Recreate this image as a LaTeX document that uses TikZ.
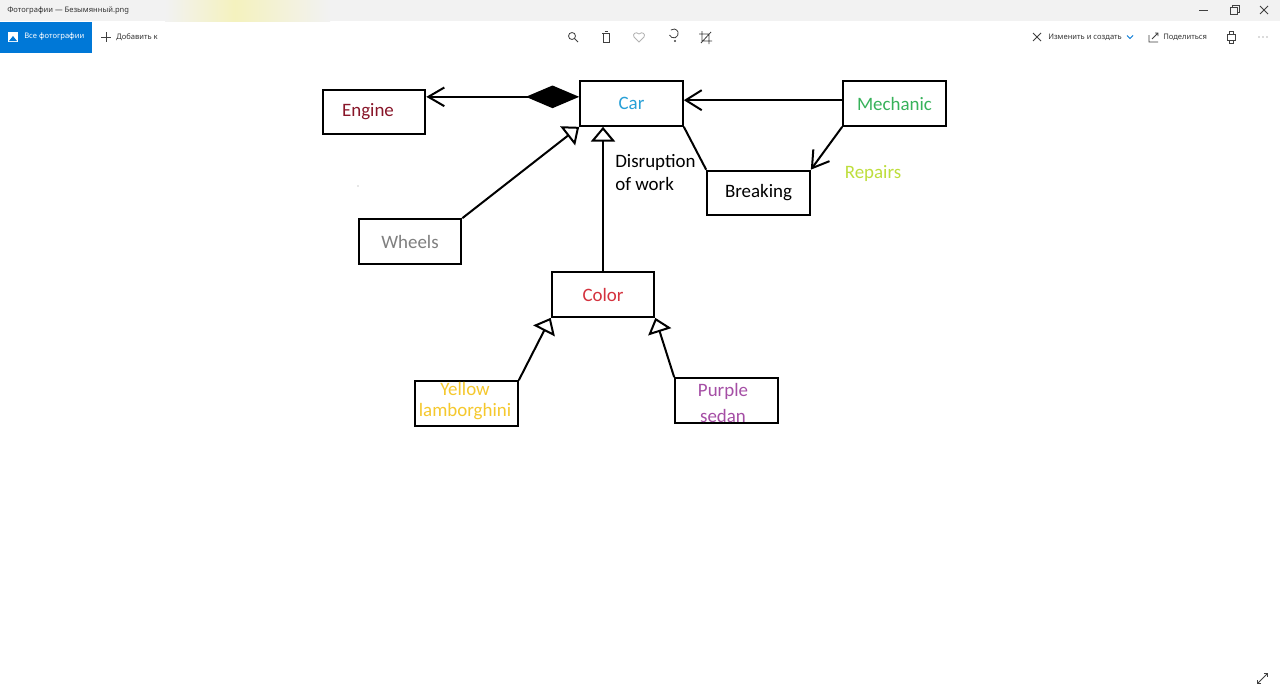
\documentclass[tikz,border=0pt]{standalone}
\usepackage{fontspec}
\setmainfont{Carlito}
\newfontfamily\uifont{Noto Sans}
\usetikzlibrary{arrows.meta,positioning,calc}

\definecolor{titlegray}{RGB}{242,242,242}
\definecolor{glow}{RGB}{244,242,190}
\definecolor{winblue}{RGB}{0,120,215}
\definecolor{enginered}{RGB}{136,21,40}
\definecolor{carblue}{RGB}{40,160,215}
\definecolor{mechgreen}{RGB}{55,178,90}
\definecolor{wheelgray}{RGB}{127,127,127}
\definecolor{colorred}{RGB}{212,50,62}
\definecolor{lamboyellow}{RGB}{245,200,45}
\definecolor{sedanpurple}{RGB}{165,78,165}
\definecolor{repairsgreen}{RGB}{190,222,60}

\tikzstyle{box} = [draw=black, line width=1.5pt, minimum width=77pt, minimum height=33.5pt, inner sep=0pt, font=\fontsize{14.2}{17}\selectfont]
\tikzstyle{txt} = [inner sep=0pt, align=center, font=\fontsize{14.2}{17}\selectfont]
\tikzstyle{assoc} = [line width=1.5pt, -{Straight Barb[length=12pt,width=15pt]}]
\tikzstyle{inherit} = [line width=1.5pt, -{Triangle[open,length=11pt,width=18pt,fill=white]}]
\tikzstyle{compose} = [line width=1.5pt, {Diamond[length=40pt,width=17pt,fill=black]}-{Straight Barb[length=12pt,width=14pt]}]
\tikzstyle{ui} = [font=\uifont\fontsize{5.7}{7}\selectfont, text=black!80, anchor=west, inner sep=0pt]
\tikzstyle{icon} = [draw=black!75, line width=0.6pt]

\begin{document}
\begin{tikzpicture}[x=0.75pt,y=-0.75pt]
    \useasboundingbox (0,0) rectangle (1280,693);
    \fill[white] (0,0) rectangle (1280,693);

    % title bar
    \fill[titlegray] (0,0) rectangle (1280,21);
    \shade[left color=titlegray,right color=glow] (165,0) rectangle (235,21);
    \shade[left color=glow,right color=titlegray] (235,0) rectangle (330,21);
    \node[ui] (title) at (7,11) {Фотографии — Безымянный.png};
    \draw[icon] (1199,10) -- (1208,10);
    \draw[icon] (1230,7) rectangle (1237,14);
    \draw[icon] (1232,7) -- (1232,5) -- (1239,5) -- (1239,12) -- (1237,12);
    \draw[icon] (1260,6) -- (1268,14) (1260,14) -- (1268,6);

    % toolbar
    \fill[winblue] (0,22) rectangle (92,53);
    \fill[white] (8,32) rectangle (18,42);
    \fill[winblue] (9,41) -- (13,36) -- (17,41) -- cycle;
    \node[ui,text=white] (allphotos) at (24,37) {Все фотографии};
    \draw[icon] (101,37) -- (111,37) (106,32) -- (106,42);
    \node[ui] (addto) at (116,37) {Добавить к};
      \draw[icon] (572,36) circle (3.5);
      \draw[icon] (574.5,38.5) -- (578,42);
      \draw[icon] (602,33) -- (610,33) (604.5,31) -- (607.5,31);
      \draw[icon] (603,33) rectangle (609,42);
      \draw[black!30, line width=0.6pt] (639,42) -- (634,37) .. controls (632,34) and (636,31) .. (639,34) .. controls (642,31) and (646,34) .. (644,37) -- cycle;
      \draw[icon] (669.5,35) arc[start angle=160, end angle=-130, radius=4.5];
      \fill[black!75] (675,41) circle (1.2);
      \draw[icon] (702,31) -- (702,41) -- (712,41) (699,34) -- (709,34) -- (709,44) (701,43) -- (711,32);
    \draw[icon] (1033,33) -- (1041,41) (1033,41) -- (1041,33);
    \node[ui] (edit) at (1048,37) {Изменить и создать};
    \draw[winblue, line width=0.6pt] (1127,35.5) -- (1130,38.5) -- (1133,35.5);
    \draw[icon] (1149,35) -- (1149,42) -- (1158,42) (1152,39) -- (1158,33) (1155,33) -- (1158,33) -- (1158,36);
    \node[ui] (share) at (1163,37) {Поделиться};
    \draw[icon] (1227,34) rectangle (1235,40) (1229,31) rectangle (1233,34) (1229,40) rectangle (1233,43);
    \foreach \x in {1259,1263,1267}
      \fill[black!60] (\x,37) circle (0.6);
    \draw[icon, {Straight Barb[length=2pt]}-{Straight Barb[length=2pt]}] (1257,684) -- (1268,673);

    % boxes
    \node[box, text=enginered] (engine) at (374,112) {Engine\hspace*{9pt}};
    \node[box, text=carblue] (car) at (631.5,103.5) {Car};
    \node[box, text=mechgreen] (mechanic) at (894.5,103.5) {Mechanic};
    \node[box] (breaking) at (758.5,193) {Breaking};
    \node[box, text=wheelgray] (wheels) at (410,241.5) {Wheels};
    \node[box, text=colorred] (color) at (603,294.5) {Color};
    \node[box] (yellow) at (466.5,403.5) {};
      \node[txt, text=lamboyellow, font=\fontsize{14.2}{15.75}\selectfont] (yellowtext) at (465,401) {Yellow\\lamborghini};
    \node[box] (purple) at (726.5,400.5) {};
      \node[txt, text=sedanpurple, font=\fontsize{14.2}{19.5}\selectfont] (purpletext) at (723,403) {Purple\\sedan};

    % connector labels
    \node[txt, text=repairsgreen] (repairs) at (873,174) {Repairs};
    \node[txt, align=left, anchor=west, font=\fontsize{14.2}{17.25}\selectfont] (disruption) at (615,173) {Disruption\\of work};
    \fill[black!40] (358,186) circle (0.6);

    % arrows
    \draw[compose] ([yshift=5pt]car.west) -- ([yshift=5pt]car.west -| engine.east);
    \draw[assoc] ([yshift=2.5pt]mechanic.west) -- ([yshift=2.5pt]mechanic.west -| car.east);
    \draw[line width=1.5pt] (car.south east) -- (breaking.north west);
    \draw[assoc] (mechanic.south west) -- (breaking.north east);
    \draw[inherit] (wheels.north east) -- (car.south west);
    \draw[inherit] (color.north) -- (color.north |- car.south);
    \draw[inherit] (yellow.north east) -- (color.south west);
    \draw[inherit] (purple.north west) -- (color.south east);
\end{tikzpicture}
\end{document}
